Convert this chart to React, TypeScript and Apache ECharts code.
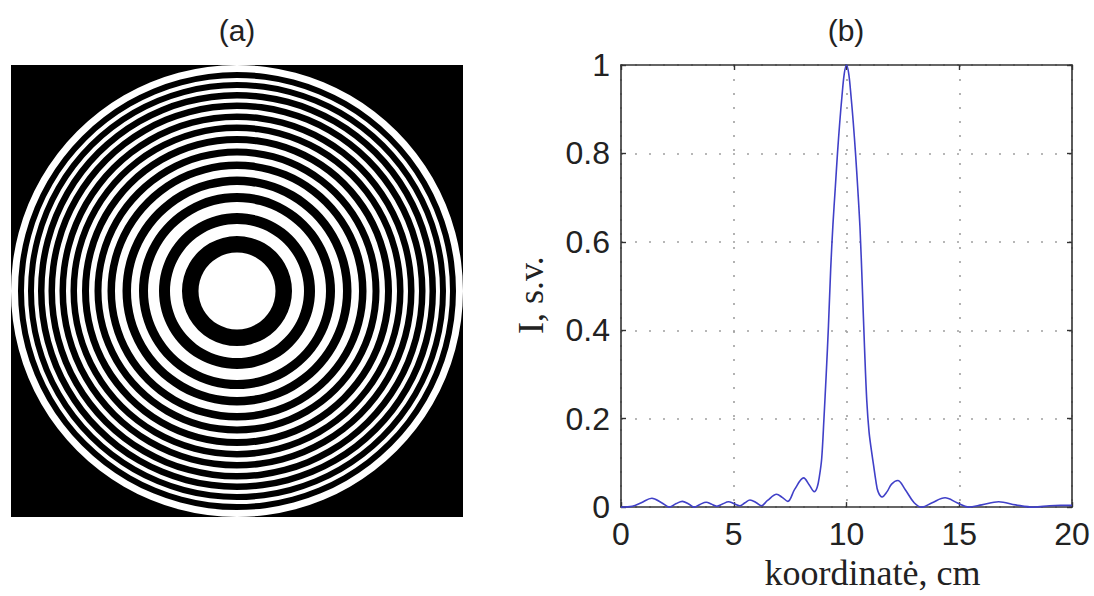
import { useEffect, useRef } from "react";
import * as echarts from "echarts";

// Panel (b): intensity profile
const coordX = [
  0, 0.5, 0.9, 1.37, 1.8, 2.15, 2.45, 2.72, 3.0, 3.25, 3.5, 3.78, 4.0, 4.25, 4.5, 4.77,
  5.0, 5.26, 5.5, 5.72, 6.0, 6.22, 6.5, 6.9, 7.15, 7.4, 7.7, 8.1, 8.35, 8.57, 8.7, 8.8,
  8.9, 9.0, 9.1, 9.2, 9.3, 9.4, 9.5, 9.6, 9.7, 9.8, 9.9, 10.0, 10.1, 10.2, 10.3, 10.4,
  10.5, 10.6, 10.7, 10.8, 10.9, 11.0, 11.1, 11.2, 11.3, 11.4, 11.58, 11.8, 12.0, 12.27,
  12.6, 13.0, 13.35, 13.8, 14.37, 14.9, 15.4, 16.0, 16.75, 17.5, 18.3, 19.0, 19.5, 20.0,
];
const intensity = [
  0, 0.002, 0.01, 0.02, 0.01, 0.0, 0.008, 0.013, 0.007, 0.0, 0.006, 0.011, 0.007, 0.002, 0.007, 0.012,
  0.008, 0.003, 0.01, 0.016, 0.01, 0.003, 0.015, 0.029, 0.022, 0.013, 0.04, 0.066, 0.05, 0.035, 0.045, 0.07,
  0.11, 0.2, 0.3, 0.41, 0.54, 0.64, 0.72, 0.8, 0.87, 0.93, 0.98, 1.0, 0.98, 0.93, 0.87, 0.8,
  0.72, 0.63, 0.5, 0.36, 0.24, 0.17, 0.13, 0.095, 0.06, 0.035, 0.023, 0.035, 0.052, 0.06,
  0.04, 0.01, 0.0, 0.01, 0.021, 0.01, 0.0, 0.005, 0.012, 0.005, 0.0, 0.003, 0.004, 0.004,
];
const xTickStep = 5;
const yTickStep = 0.2;

// Panel (a): zone plate, radii (px of the 452 px square) where colour switches white/black
const plateHalf = 226;
const ringEdges = [
  38.5, 55, 67, 78, 89, 98, 106, 114.5, 122, 129.5, 135.5, 142.5, 148, 155, 160, 166.5,
  171, 177.5, 182, 188.5, 192.5, 199, 203, 209, 213, 219, 226,
];

const titles = ["(a)", "(b)"];
const xName = "koordinatė, cm";
const yName = "I, s.v.";

const SANS = "'Liberation Sans', Arial, Helvetica, sans-serif";
const SERIF = "'Liberation Serif', 'Times New Roman', serif";

export default function App() {
  const ref = useRef<HTMLDivElement>(null);

  useEffect(() => {
    if (!ref.current) return;
    const chart = echarts.init(ref.current, null, { renderer: "svg" });

    const whiteRings: number[][] = [[0, ringEdges[0]]];
    for (let i = 1; i + 1 < ringEdges.length; i += 2) {
      whiteRings.push([ringEdges[i], ringEdges[i + 1]]);
    }
    const lineData = coordX.map((x, i) => [x, intensity[i]]);

    const frame = { show: true, onZero: false, lineStyle: { color: "#333", width: 1.6 } };
    const tick = { show: true, inside: true, length: 5, lineStyle: { color: "#333", width: 1.4 } };
    const dotted = {
      show: true,
      lineStyle: { color: "#a0a0a0", width: 1.6, type: [2, 12] as any },
    };
    const tickLabel = { fontSize: 32, color: "#222", fontFamily: SANS };

    chart.setOption({
      animation: false,
      backgroundColor: "#fff",
      title: [
        {
          text: titles[0], left: 237, top: 15, textAlign: "center", padding: 0,
          textStyle: { fontSize: 30, fontWeight: "normal", color: "#222", fontFamily: SANS },
        },
        {
          text: titles[1], left: 846, top: 15, textAlign: "center", padding: 0,
          textStyle: { fontSize: 30, fontWeight: "normal", color: "#222", fontFamily: SANS },
        },
      ],
      grid: [
        { left: 621, top: 65, width: 451, height: 452, containLabel: false },
        {
          left: 11, top: 65, width: 452, height: 452, show: true,
          backgroundColor: "#000", borderWidth: 0,
        },
      ],
      xAxis: [
        {
          gridIndex: 0, type: "value", min: 0, max: 20, interval: xTickStep, position: "bottom",
          axisLine: frame, axisTick: tick, splitLine: dotted,
          axisLabel: { ...tickLabel, margin: 11 },
          name: xName, nameLocation: "middle", nameGap: 44,
          nameTextStyle: { fontSize: 36, color: "#222", fontFamily: SERIF, padding: [0, 0, 0, 52] },
        },
        {
          gridIndex: 0, type: "value", min: 0, max: 20, interval: xTickStep, position: "top",
          axisLine: frame, axisTick: tick, splitLine: { show: false }, axisLabel: { show: false },
        },
        { gridIndex: 1, type: "value", min: -plateHalf, max: plateHalf, show: false },
      ],
      yAxis: [
        {
          gridIndex: 0, type: "value", min: 0, max: 1, interval: yTickStep, position: "left",
          axisLine: frame, axisTick: tick, splitLine: dotted,
          axisLabel: { ...tickLabel, margin: 11 },
          name: yName, nameLocation: "middle", nameGap: 72,
          nameTextStyle: { fontSize: 36, color: "#222", fontFamily: SERIF, padding: [0, 18, 0, 0] },
        },
        {
          gridIndex: 0, type: "value", min: 0, max: 1, interval: yTickStep, position: "right",
          axisLine: frame, axisTick: tick, splitLine: { show: false }, axisLabel: { show: false },
        },
        { gridIndex: 1, type: "value", min: -plateHalf, max: plateHalf, show: false },
      ],
      series: [
        {
          type: "line", xAxisIndex: 0, yAxisIndex: 0, data: lineData,
          showSymbol: false, smooth: 0.35,
          lineStyle: { color: "#4040c8", width: 1.6 },
        },
        {
          type: "custom", xAxisIndex: 2, yAxisIndex: 2, data: whiteRings,
          renderItem: (_params: any, api: any) => {
            const c = api.coord([0, 0]);
            const r0 = api.coord([api.value(0), 0])[0] - c[0];
            const r = api.coord([api.value(1), 0])[0] - c[0];
            return {
              type: "ring",
              shape: { cx: c[0], cy: c[1], r, r0 },
              style: { fill: "#fff" },
            };
          },
        },
      ],
    });

    return () => chart.dispose();
  }, []);

  return (
    <div
      ref={ref}
      style={{ position: "fixed", left: 0, top: 0, width: 1094, height: 596 }}
    />
  );
}
